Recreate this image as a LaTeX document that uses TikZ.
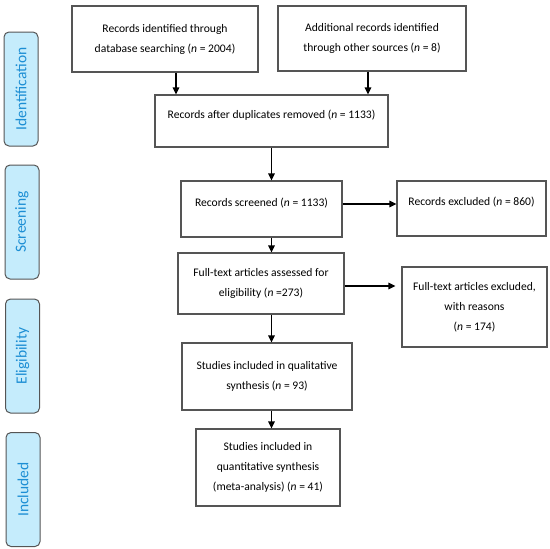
\documentclass[tikz,border=0pt]{standalone}
\usepackage{fontspec}
\setmainfont{Carlito}
\usetikzlibrary{arrows.meta}
\definecolor{phasefill}{RGB}{197,236,252}
\definecolor{phasetext}{RGB}{28,142,212}
\definecolor{boxline}{RGB}{85,85,85}

\begin{document}
\begin{tikzpicture}[x=1pt, y=-1pt,
    flowbox/.style={draw=boxline, line width=1.2pt, align=center, inner sep=2pt,
      font=\fontsize{11.6}{20}\selectfont},
    liftup/.style={text depth=14pt},
    phase/.style={draw=boxline, line width=1pt, fill=phasefill, rounded corners=5pt,
      rotate=90, minimum width=114pt, minimum height=34pt, inner sep=0pt,
      text=phasetext, font=\fontsize{15.5}{17}\selectfont},
    flow/.style={-{Triangle[length=7pt, width=6.5pt]}, line width=1.4pt, black}]
  \useasboundingbox (0,0) rectangle (550,549);
  % --- Phase labels on the left ---
  \node[phase] (ident) at (21,89) {Identification};
  \node[phase] (screen) at (22,222) {Screening};
  \node[phase] (elig) at (22.5,356) {Eligibility};
  \node[phase] (incl) at (23,489.5) {Included};
  % --- Identification ---
  \node[flowbox, minimum width=186pt, minimum height=66pt] (dbrec) at (165,39)
    {Records identified through\\database searching (\textit{n} = 2004)};
  \node[flowbox, minimum width=188pt, minimum height=65pt] (otherrec) at (372,38.5)
    {Additional records identified\\through other sources (\textit{n} = 8)};
  \node[flowbox, liftup, minimum width=233pt, minimum height=52pt] (dedup) at (271.5,121)
    {Records after duplicates removed (\textit{n} = 1133)};
  % --- Screening ---
  \node[flowbox, liftup, minimum width=161pt, minimum height=56pt] (screened) at (261.5,209)
    {Records screened (\textit{n} = 1133)};
  \node[flowbox, liftup, minimum width=149pt, minimum height=55pt] (excluded) at (471.5,208.5)
    {Records excluded (\textit{n} = 860)};
  % --- Eligibility ---
  \node[flowbox, minimum width=166pt, minimum height=61pt] (fulltext) at (261,283.5)
    {Full-text articles assessed for\\eligibility (\textit{n} =273)};
  \node[flowbox, minimum width=145pt, minimum height=80pt] (ftexcl) at (474.5,307)
    {Full-text articles excluded,\\with reasons\\(\textit{n} = 174)};
  % --- Included ---
  \node[flowbox, minimum width=170pt, minimum height=67pt] (qualit) at (267,376.5)
    {Studies included in qualitative\\synthesis (\textit{n} = 93)};
  \node[flowbox, minimum width=144pt, minimum height=77pt] (quantit) at (268,467.5)
    {Studies included in\\quantitative synthesis\\(meta-analysis) (\textit{n} = 41)};
  % --- Connectors ---
  \draw[flow] ([xshift=11pt]dbrec.south) -- ([xshift=11pt]dbrec.south |- dedup.north);
  \draw[flow] ([xshift=-4pt]otherrec.south) -- ([xshift=-4pt]otherrec.south |- dedup.north);
  \draw[flow] (dedup.south) -- (dedup.south |- screened.north);
  \draw[flow] ([yshift=5pt]screened.east) -- ([yshift=5pt]screened.east -| excluded.west);
  \draw[flow] (dedup.south |- screened.south) -- (dedup.south |- fulltext.north);
  \draw[flow, shorten >=6pt] ([yshift=-2.5pt]fulltext.east) -- ([yshift=-2.5pt]fulltext.east -| ftexcl.west);
  \draw[flow] (dedup.south |- fulltext.south) -- (dedup.south |- qualit.north);
  \draw[flow] (dedup.south |- qualit.south) -- (dedup.south |- quantit.north);
\end{tikzpicture}
\end{document}
